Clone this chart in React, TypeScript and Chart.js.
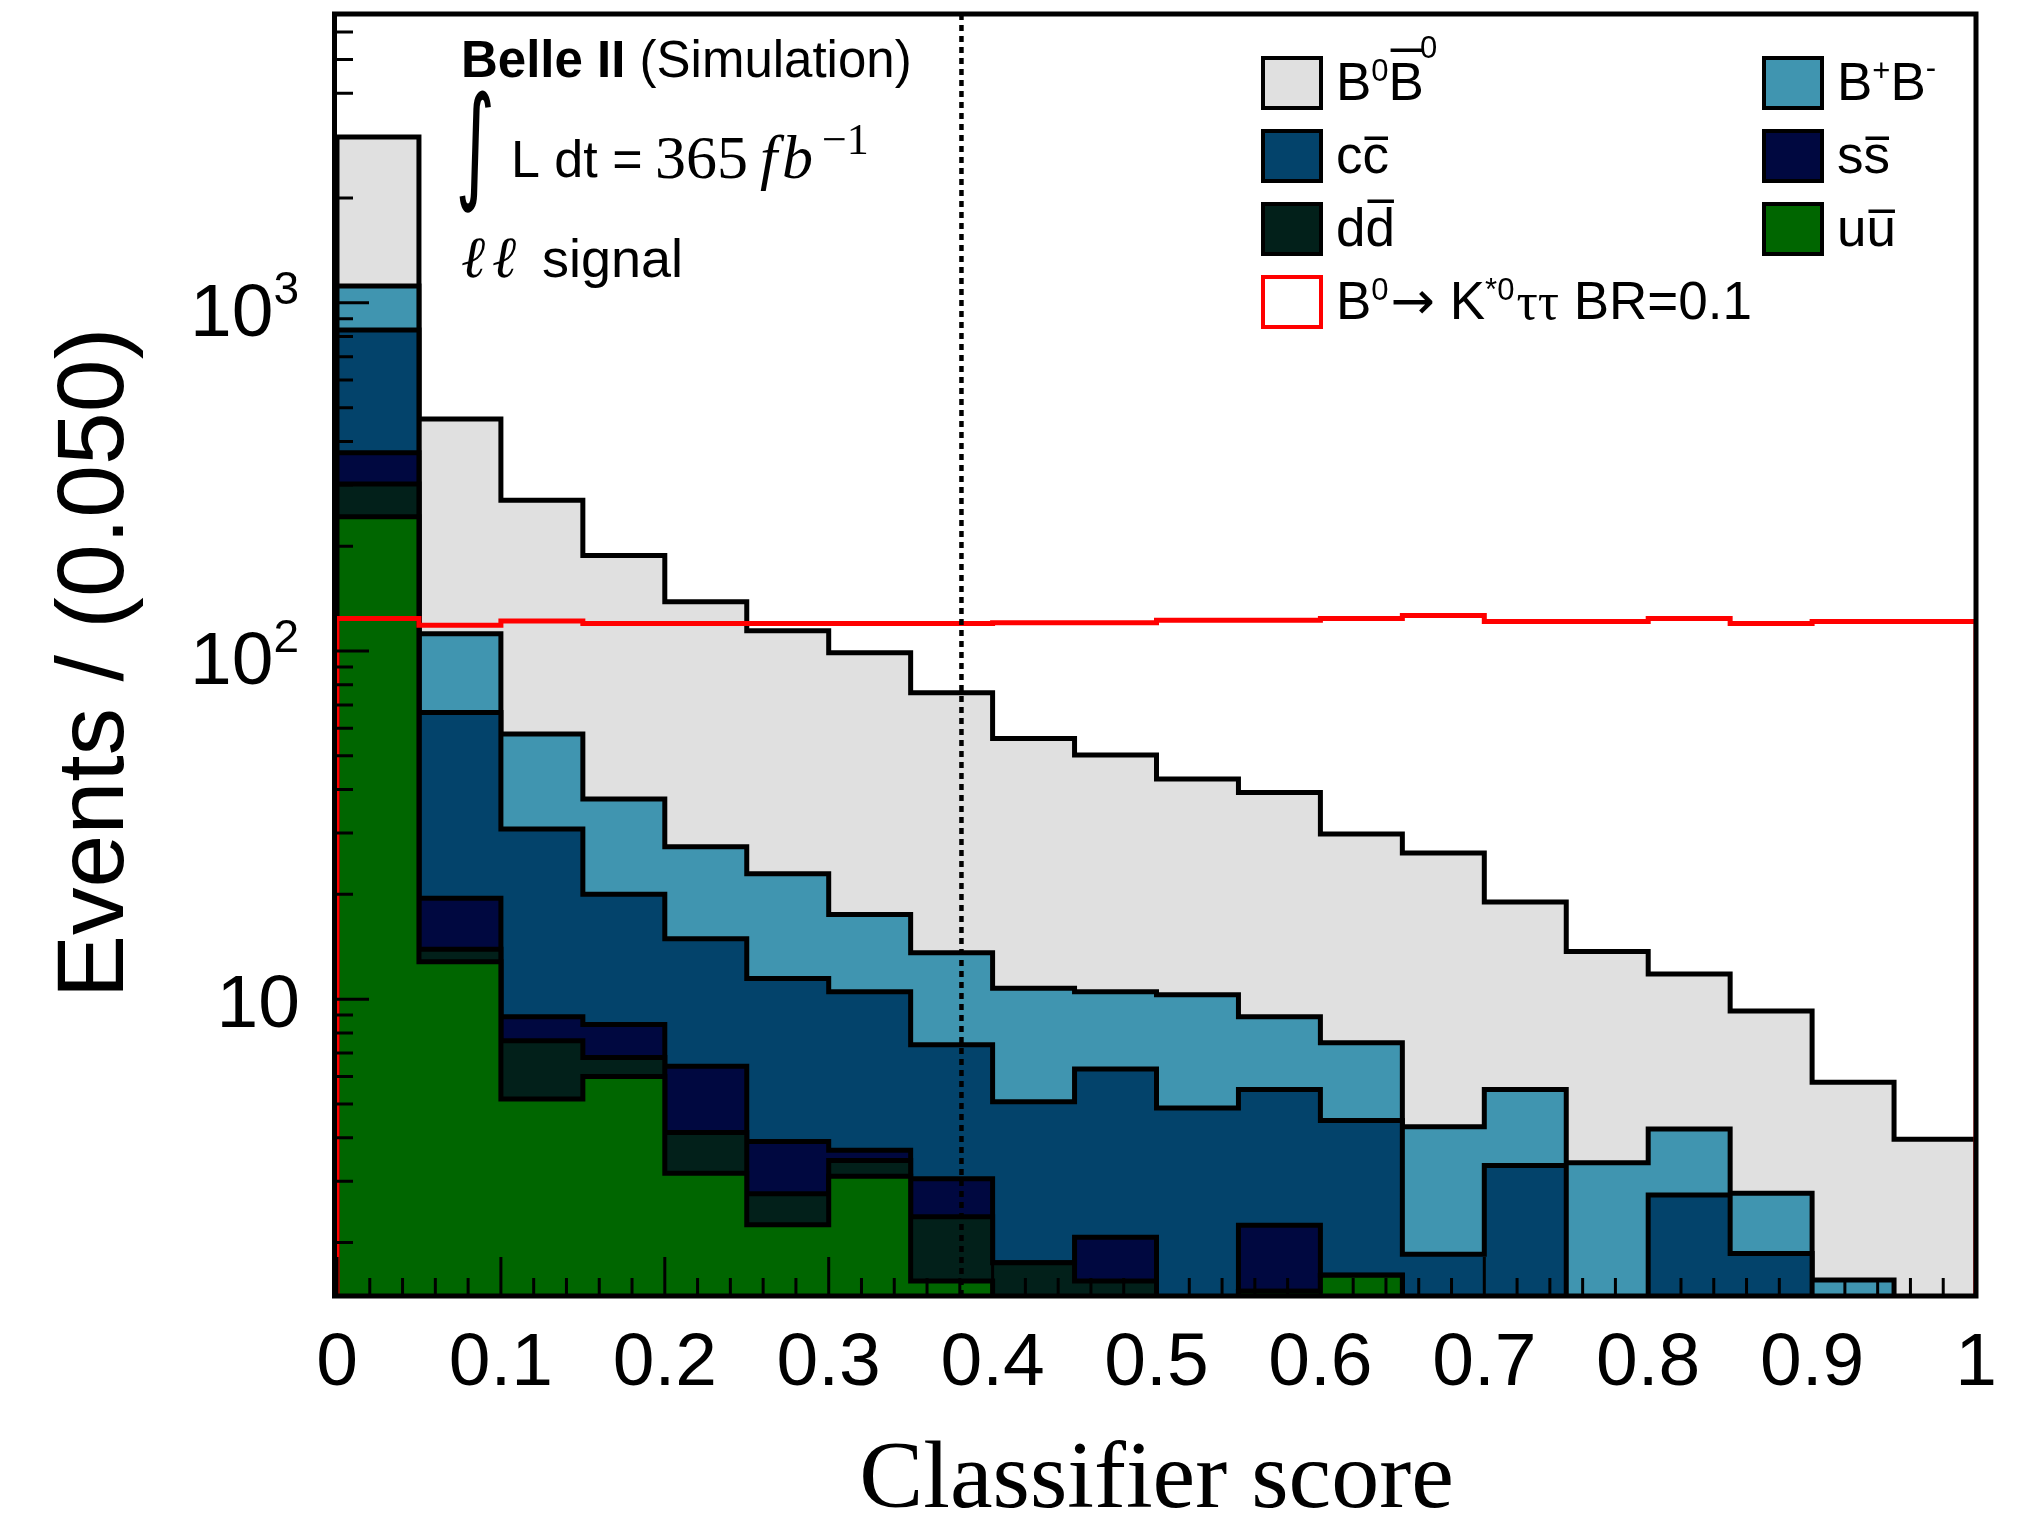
import React, { useEffect, useRef } from 'react';
import { Chart, registerables } from 'chart.js';

Chart.register(...registerables);

const CANVAS_W = 2023;
const CANVAS_H = 1513;

// Classifier-score binning: 20 bins of width 0.05
const binLowEdges = [0.0, 0.05, 0.1, 0.15, 0.2, 0.25, 0.3, 0.35, 0.4, 0.45, 0.5, 0.55, 0.6, 0.65, 0.7, 0.75, 0.8, 0.85, 0.9, 0.95];
const binHighEdge = 1.0;

// Expected events per bin, per background category (stacked bottom to top: uu, dd, ss, cc, B+B-, B0B0bar)
const yieldUU = [243, 12.8, 5.17, 6.0, 3.16, 2.25, 3.1, 1.55, 0, 0, 0, 1.45, 1.61, 0, 0, 0, 0, 0, 0, 0];
const yieldDD = [59, 1.1, 2.43, 0.8, 0.98, 0.51, 0.34, 0.82, 1.75, 1.55, 0, 0, 0, 0, 0, 0, 0, 0, 0, 0];
const yieldSS = [69, 5.6, 1.3, 1.66, 2.28, 1.14, 0.24, 0.68, 0, 0.52, 0, 0.79, 0, 0, 0, 0, 0, 0, 0, 0];
const yieldCC = [464, 47.1, 21.9, 11.54, 8.48, 7.57, 6.82, 4.35, 3.32, 4.23, 4.87, 3.26, 2.87, 1.85, 3.33, 0, 2.74, 1.86, 0, 0];
const yieldBpBm = [282, 45.4, 27.0, 17.6, 12.5, 11.43, 7.0, 6.2, 5.68, 4.2, 5.43, 3.4, 3.01, 2.45, 2.17, 3.39, 1.5, 0.91, 1.56, 0];
const yieldB0B0bar = [1878, 352, 213.2, 150.4, 111.2, 91.4, 81.4, 62.3, 45.35, 39.8, 32.6, 30.3, 22.31, 22.0, 13.5, 10.31, 7.56, 6.48, 4.21, 3.96];

// Signal B0 -> K*0 tau tau, scaled to BR = 0.1
const yieldSignal = [124, 118.5, 122, 120, 120, 120, 120, 120, 120.5, 120.5, 122.5, 122.5, 124, 126.5, 121.5, 121.5, 124, 120, 121.5, 121.5];

// Axes
const xAxisMin = 0;
const xAxisMax = 1;
const yAxisMin = 1.404;
const yAxisMax = 6755;
const xTickValues = [0, 0.1, 0.2, 0.3, 0.4, 0.5, 0.6, 0.7, 0.8, 0.9, 1];
const xTickLabels = ['0', '0.1', '0.2', '0.3', '0.4', '0.5', '0.6', '0.7', '0.8', '0.9', '1'];
const yTickValues = [10, 100, 1000];
const yTickExponents = ['', '2', '3'];

// Selection cut on the classifier score
const cutScore = 0.381;

// Level used for empty bins: below the visible axis range, so it is clipped away
const emptyLevel = 1;

const SANS = '"Liberation Sans", Arial, Helvetica, sans-serif';
const SERIF = '"Liberation Serif", "Times New Roman", Times, serif';

const COLORS = {
  uu: '#006600',
  dd: '#02201a',
  ss: '#000840',
  cc: '#03436b',
  bpbm: '#4095b0',
  b0b0bar: '#e0e0e0',
  signal: '#ff0000',
};

const LINE_W = 5;

const stackLayers = [
  { key: 'uu', values: yieldUU, color: COLORS.uu },
  { key: 'dd', values: yieldDD, color: COLORS.dd },
  { key: 'ss', values: yieldSS, color: COLORS.ss },
  { key: 'cc', values: yieldCC, color: COLORS.cc },
  { key: 'bpbm', values: yieldBpBm, color: COLORS.bpbm },
  { key: 'b0b0bar', values: yieldB0B0bar, color: COLORS.b0b0bar },
];

// Histogram outline as step points: rise at the low edge, one point per bin, drop at the high edge
function stepPoints(values: number[]) {
  const lv = (v: number) => (v > 0 ? v : emptyLevel);
  const pts: { x: number; y: number }[] = [{ x: binLowEdges[0], y: emptyLevel }];
  values.forEach((v, i) => pts.push({ x: binLowEdges[i], y: lv(v) }));
  pts.push({ x: binHighEdge, y: lv(values[values.length - 1]) });
  pts.push({ x: binHighEdge, y: emptyLevel });
  return pts;
}

function buildDatasets() {
  const running = binLowEdges.map(() => 0);
  const stacked = stackLayers.map((layer) => {
    layer.values.forEach((v, i) => (running[i] += v));
    return { ...layer, cumulative: running.slice() };
  });
  // first dataset is painted last, so the lowest stack layer ends up above the ones it covers
  const fills = stacked.map((layer) => ({
    label: layer.key,
    data: stepPoints(layer.cumulative),
    stepped: 'before' as const,
    fill: 'start' as const,
    backgroundColor: layer.color,
    borderColor: '#000000',
    borderWidth: LINE_W,
    borderJoinStyle: 'miter' as const,
    pointRadius: 0,
  }));
  const signal = {
    label: 'signal',
    data: stepPoints(yieldSignal),
    stepped: 'before' as const,
    fill: false as const,
    backgroundColor: 'rgba(0,0,0,0)',
    borderColor: COLORS.signal,
    borderWidth: LINE_W,
    borderJoinStyle: 'miter' as const,
    pointRadius: 0,
  };
  return [signal, ...fills];
}

type Seg = { text: string; font: string; dy?: number; bar?: number; gap?: number };

function drawSegments(ctx: CanvasRenderingContext2D, x: number, y: number, segs: Seg[]) {
  let cx = x;
  for (const s of segs) {
    cx += s.gap ?? 0;
    ctx.font = s.font;
    const w = ctx.measureText(s.text).width;
    ctx.fillText(s.text, cx, y + (s.dy ?? 0));
    if (s.bar !== undefined) {
      ctx.fillRect(cx + 2, y + s.bar - 1.5, w - 3, 3.5);
    }
    cx += w;
  }
  return cx;
}

function drawFitted(ctx: CanvasRenderingContext2D, text: string, font: string, x0: number, y0: number, x1: number, y1: number) {
  ctx.save();
  ctx.font = font;
  ctx.textAlign = 'left';
  ctx.textBaseline = 'alphabetic';
  const m = ctx.measureText(text);
  const w = m.actualBoundingBoxLeft + m.actualBoundingBoxRight;
  const h = m.actualBoundingBoxAscent + m.actualBoundingBoxDescent;
  ctx.translate(x0, y0);
  ctx.scale((x1 - x0) / w, (y1 - y0) / h);
  ctx.fillText(text, m.actualBoundingBoxLeft, m.actualBoundingBoxAscent);
  ctx.restore();
}

const LEG_F = 53;
const legSans = `${LEG_F}px ${SANS}`;
const legSup = `31px ${SANS}`;

const legendEntries: { color: string; outline: string; fillBox: boolean; col: number; row: number; label: Seg[] }[] = [
  {
    color: COLORS.b0b0bar, outline: '#000', fillBox: true, col: 0, row: 0,
    label: [
      { text: 'B', font: legSans },
      { text: '0', font: legSup, dy: -19 },
      { text: 'B', font: legSans, bar: -50 },
      { text: '0', font: legSup, dy: -42, gap: -4 },
    ],
  },
  {
    color: COLORS.bpbm, outline: '#000', fillBox: true, col: 1, row: 0,
    label: [
      { text: 'B', font: legSans },
      { text: '+', font: legSup, dy: -19 },
      { text: 'B', font: legSans },
      { text: '-', font: legSup, dy: -22 },
    ],
  },
  {
    color: COLORS.cc, outline: '#000', fillBox: true, col: 0, row: 1,
    label: [
      { text: 'c', font: legSans },
      { text: 'c', font: legSans, bar: -35 },
    ],
  },
  {
    color: COLORS.ss, outline: '#000', fillBox: true, col: 1, row: 1,
    label: [
      { text: 's', font: legSans },
      { text: 's', font: legSans, bar: -35 },
    ],
  },
  {
    color: COLORS.dd, outline: '#000', fillBox: true, col: 0, row: 2,
    label: [
      { text: 'd', font: legSans },
      { text: 'd', font: legSans, bar: -45 },
    ],
  },
  {
    color: COLORS.uu, outline: '#000', fillBox: true, col: 1, row: 2,
    label: [
      { text: 'u', font: legSans },
      { text: 'u', font: legSans, bar: -35 },
    ],
  },
  {
    color: '#ffffff', outline: COLORS.signal, fillBox: false, col: 0, row: 3,
    label: [
      { text: 'B', font: legSans },
      { text: '0', font: legSup, dy: -19 },
      { text: '\u2192', font: `${LEG_F}px "DejaVu Sans", ${SANS}`, gap: 2 },
      { text: ' K', font: legSans },
      { text: '*0', font: legSup, dy: -19 },
      { text: '\u03c4\u03c4', font: `${LEG_F}px ${SERIF}`, gap: 2 },
      { text: ' BR=0.1', font: legSans },
    ],
  },
];

const legendColX = [1261, 1762];
const legendRowTop = [56, 129, 202, 275];
const legendBoxW = 62;
const legendBoxH = 54;

const decorations = {
  id: 'rootStyleDecorations',
  afterDatasetsDraw(chart: Chart) {
    const { ctx, chartArea: a } = chart;
    const xs = chart.scales.x;
    const ys = chart.scales.y;
    ctx.save();
    ctx.fillStyle = '#000';
    ctx.strokeStyle = '#000';

    // dotted cut line
    const xc = xs.getPixelForValue(cutScore);
    ctx.lineWidth = 4.5;
    ctx.setLineDash([6, 5]);
    ctx.beginPath();
    ctx.moveTo(xc, a.bottom);
    ctx.lineTo(xc, a.top);
    ctx.stroke();
    ctx.setLineDash([]);

    // frame
    ctx.lineWidth = 5;
    ctx.strokeRect(a.left - 2.5, a.top, a.right - a.left + 2.5, a.bottom - a.top);

    // ticks, drawn inward
    ctx.lineWidth = 3;
    ctx.beginPath();
    for (let i = 0; i <= 50; i++) {
      const v = xAxisMin + (i * (xAxisMax - xAxisMin)) / 50;
      const px = xs.getPixelForValue(v);
      const len = i % 5 === 0 ? 39 : 18;
      ctx.moveTo(px, a.bottom);
      ctx.lineTo(px, a.bottom - len);
    }
    for (let dec = 1; dec <= 1000; dec *= 10) {
      for (let k = 1; k <= 9; k++) {
        const v = k * dec;
        if (v < yAxisMin || v > yAxisMax) continue;
        const py = ys.getPixelForValue(v);
        const len = k === 1 ? 34 : 18;
        ctx.moveTo(a.left - 2, py);
        ctx.lineTo(a.left - 2 + len, py);
      }
    }
    ctx.stroke();

    // x tick labels
    ctx.textAlign = 'center';
    ctx.textBaseline = 'alphabetic';
    ctx.font = `75px ${SANS}`;
    xTickValues.forEach((v, i) => {
      ctx.fillText(xTickLabels[i], xs.getPixelForValue(v), 1385);
    });

    // y tick labels
    ctx.textAlign = 'left';
    yTickValues.forEach((v, i) => {
      const py = ys.getPixelForValue(v);
      const exp = yTickExponents[i];
      ctx.font = `75px ${SANS}`;
      const wb = ctx.measureText('10').width;
      if (!exp) {
        ctx.fillText('10', 300 - wb, py + 28);
      } else {
        ctx.font = `46px ${SANS}`;
        const we = ctx.measureText(exp).width;
        ctx.font = `75px ${SANS}`;
        const x0 = 299 - we - wb;
        ctx.fillText('10', x0, py + 33);
        ctx.font = `46px ${SANS}`;
        ctx.fillText(exp, x0 + wb, py + 1);
      }
    });

    // axis titles
    ctx.save();
    ctx.translate(123, 663);
    ctx.rotate(-Math.PI / 2);
    ctx.textAlign = 'center';
    ctx.font = `95px ${SANS}`;
    ctx.fillText('Events / (0.050)', 0, 0);
    ctx.restore();

    ctx.textAlign = 'center';
    ctx.font = `96px ${SERIF}`;
    ctx.fillText('Classifier score', (a.left + a.right) / 2, 1507);

    // experiment label
    ctx.textAlign = 'left';
    drawSegments(ctx, 461, 77, [
      { text: 'Belle II', font: `bold 51px ${SANS}` },
      { text: ' (Simulation)', font: `51px ${SANS}` },
    ]);
    drawFitted(ctx, '\u222b', `120px "DejaVu Sans"`, 459, 90, 491, 213);
    ctx.font = `52px ${SANS}`;
    ctx.fillText('L dt =', 511, 177);
    ctx.font = `62px ${SERIF}`;
    ctx.fillText('365', 655, 178);
    ctx.font = `italic 62px ${SERIF}`;
    ctx.fillText('f', 760, 178);
    ctx.fillText('b', 782, 178);
    ctx.font = `44px ${SERIF}`;
    ctx.fillText('\u22121', 822, 154);
    ctx.font = `italic 58px ${SERIF}`;
    ctx.fillText('\u2113', 461, 277);
    ctx.fillText('\u2113', 492, 277);
    ctx.font = `54px ${SANS}`;
    ctx.fillText('signal', 542, 277);

    // legend
    legendEntries.forEach((e) => {
      const bx = legendColX[e.col];
      const by = legendRowTop[e.row];
      ctx.fillStyle = e.fillBox ? e.color : '#ffffff';
      ctx.fillRect(bx, by, legendBoxW, legendBoxH);
      ctx.strokeStyle = e.outline;
      ctx.lineWidth = 4;
      ctx.strokeRect(bx + 2, by + 2, legendBoxW - 4, legendBoxH - 4);
      ctx.fillStyle = '#000';
      drawSegments(ctx, bx + 75, by + legendBoxH / 2 + 17, e.label);
    });

    ctx.restore();
  },
};

export default function App() {
  const canvasRef = useRef<HTMLCanvasElement | null>(null);

  useEffect(() => {
    const canvas = canvasRef.current;
    if (!canvas) return;
    const chart = new Chart(canvas, {
      type: 'line',
      data: { datasets: buildDatasets() as any },
      options: {
        animation: false,
        responsive: false,
        maintainAspectRatio: false,
        devicePixelRatio: 1,
        layout: { padding: { left: 337, right: CANVAS_W - 1976, top: 14, bottom: CANVAS_H - 1296 } },
        scales: {
          x: { type: 'linear', min: xAxisMin, max: xAxisMax, display: false },
          y: { type: 'logarithmic', min: yAxisMin, max: yAxisMax, display: false },
        },
        plugins: {
          legend: { display: false },
          tooltip: { enabled: false },
        },
        elements: { point: { radius: 0 }, line: { tension: 0 } },
      },
      plugins: [decorations],
    });
    return () => chart.destroy();
  }, []);

  return (
    <div style={{ position: 'absolute', left: 0, top: 0, width: CANVAS_W, height: CANVAS_H, background: '#ffffff' }}>
      <canvas ref={canvasRef} width={CANVAS_W} height={CANVAS_H} style={{ width: CANVAS_W, height: CANVAS_H, display: 'block' }} />
    </div>
  );
}
